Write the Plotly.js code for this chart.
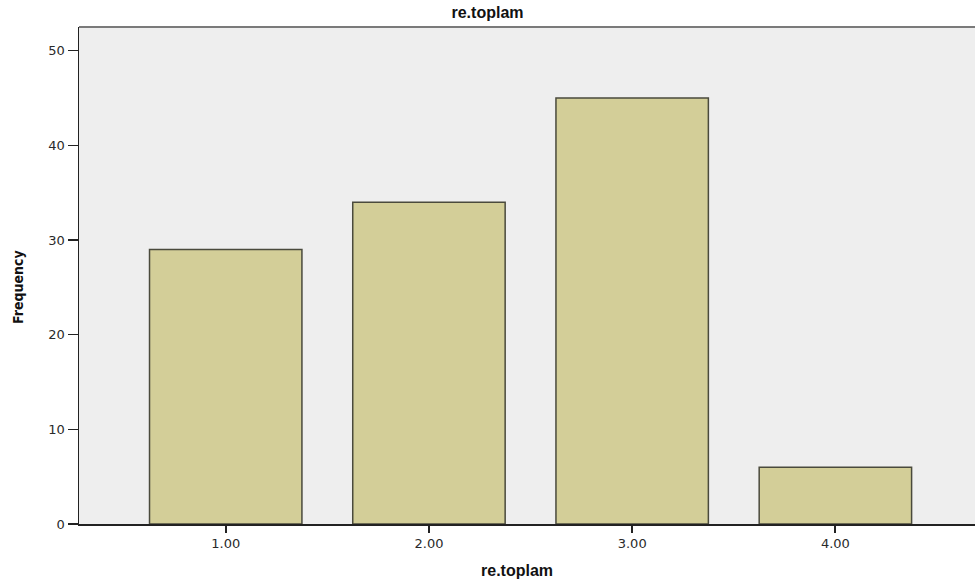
<!DOCTYPE html>
<html>
<head>
<meta charset="utf-8">
<script src="https://cdn.plot.ly/plotly-3.0.1.min.js"></script>
<style>html,body{margin:0;padding:0;background:#fff;}#chart{width:975px;height:584px;}</style>
</head>
<body>
<div id="chart"></div>
<script>
const categories = ["1.00", "2.00", "3.00", "4.00"];
const frequency = [29, 34, 45, 6];
const yTicks = [0, 10, 20, 30, 40, 50];
const chartTitle = "re.toplam";
const xTitle = "re.toplam";
const yTitle = "Frequency";

const trace = {
  type: "bar",
  x: categories,
  y: frequency,
  width: 0.75,
  marker: { color: "#D3CE98", line: { color: "#4A4A3C", width: 1.5 } },
  hoverinfo: "x+y"
};

const layout = {
  width: 975, height: 584,
  margin: { l: 79, r: 0, t: 27, b: 60 },
  paper_bgcolor: "#ffffff",
  plot_bgcolor: "#EEEEEE",
  showlegend: false,
  title: {
    text: "<b>" + chartTitle + "</b>",
    font: { family: "Liberation Sans, Arial, sans-serif", size: 16, color: "#111" },
    x: 0.5, xref: "container", xanchor: "center", y: 0.988, yref: "container", yanchor: "top"
  },
  xaxis: {
    type: "category",
    range: [-0.722, 3.687],
    showgrid: false, zeroline: false,
    showline: true, linecolor: "#222", linewidth: 1.5,
    ticks: "outside", ticklen: 7, tickwidth: 2, tickcolor: "#222",
    tickfont: { family: "DejaVu Sans, sans-serif", size: 13, color: "#2a2a2a" }
  },
  yaxis: {
    range: [0, 52.5],
    tickvals: yTicks,
    showgrid: false, zeroline: false,
    showline: true, linecolor: "#222", linewidth: 1.5,
    ticks: "outside", ticklen: 10, tickwidth: 1.5, tickcolor: "#222",
    tickfont: { family: "DejaVu Sans, sans-serif", size: 13, color: "#2a2a2a" }
  },
  annotations: [
    { text: "<b>" + xTitle + "</b>", xref: "paper", yref: "paper", x: 0.489, y: -0.094,
      xanchor: "center", yanchor: "middle", showarrow: false,
      font: { family: "Liberation Sans, Arial, sans-serif", size: 16, color: "#111" } },
    { text: "<b>" + yTitle + "</b>", xref: "paper", yref: "paper", x: -0.068, y: 0.477,
      xanchor: "center", yanchor: "middle", textangle: -90, showarrow: false,
      font: { family: "DejaVu Sans Condensed, Liberation Sans, sans-serif", size: 14, color: "#111" } }
  ],
  shapes: [
    { type: "line", xref: "paper", yref: "paper", x0: 0, x1: 1, y0: 1, y1: 1, line: { color: "#7A7A7A", width: 2 } }
  ]
};

Plotly.newPlot("chart", [trace], layout, { displayModeBar: false, staticPlot: true });
</script>
</body>
</html>
